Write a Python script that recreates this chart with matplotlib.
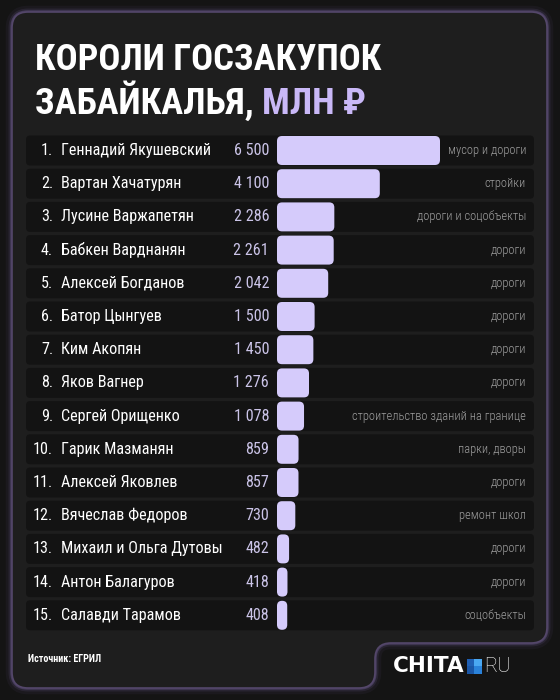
import numpy as np
import matplotlib
matplotlib.use("Agg")
import matplotlib.pyplot as plt
from matplotlib.path import Path
from matplotlib.patches import PathPatch, FancyBboxPatch, Rectangle

# data
names = ["Геннадий Якушевский", "Вартан Хачатурян", "Лусине Варжапетян",
         "Бабкен Варднанян", "Алексей Богданов", "Батор Цынгуев",
         "Ким Акопян", "Яков Вагнер", "Сергей Орищенко", "Гарик Мазманян",
         "Алексей Яковлев", "Вячеслав Федоров", "Михаил и Ольга Дутовы",
         "Антон Балагуров", "Салавди Тарамов"]
values = [6500, 4100, 2286, 2261, 2042, 1500, 1450, 1276, 1078, 859,
          857, 730, 482, 418, 408]
categories = ["мусор и дороги", "стройки", "дороги и соцобъекты", "дороги",
              "дороги", "дороги", "дороги", "дороги",
              "строительство зданий на границе", "парки, дворы", "дороги",
              "ремонт школ", "дороги", "дороги", "соцобъекты"]
title_1 = "КОРОЛИ ГОСЗАКУПОК"
title_2 = "ЗАБАЙКАЛЬЯ, "
title_unit = "МЛН ₽"
source = "Источник: ЕГРИЛ"

fam = ["Roboto Condensed", "DejaVu Sans"]
cond = dict(family=fam, stretch="condensed")

BG = "#141414"
CARD = "#1e1e1e"
ROW = "#131313"
BAR = "#d5cbfb"
NUM = "#cbc4e8"
CAT = "#9d9d9d"
ACCENT = "#c9b8f7"


def rounded_path(pts, r):
    # polygon with corners softened by quadratic curves
    verts, codes = [], []
    n = len(pts)
    for i in range(n):
        p0 = np.array(pts[i - 1], float)
        v = np.array(pts[i], float)
        p1 = np.array(pts[(i + 1) % n], float)
        a = v + r * (p0 - v) / np.linalg.norm(p0 - v)
        b = v + r * (p1 - v) / np.linalg.norm(p1 - v)
        verts += [tuple(a), tuple(v), tuple(b)]
        codes += [Path.MOVETO if i == 0 else Path.LINETO, Path.CURVE3, Path.CURVE3]
    verts.append(verts[0])
    codes.append(Path.CLOSEPOLY)
    return Path(verts, codes)


def right_edge(t):
    fig.canvas.draw()
    bb = t.get_window_extent()
    return ax.transData.inverted().transform((bb.x1, bb.y0))[0]


fig = plt.figure(figsize=(5.6, 7), dpi=100, facecolor=BG)
ax = fig.add_axes([0, 0, 1, 1])
ax.set_xlim(0, 560)
ax.set_ylim(700, 0)
ax.axis("off")

# card with a notch at the bottom right for the logo
card = rounded_path([(12, 12), (547, 12), (547, 643), (375, 643),
                     (375, 688), (12, 688)], 16)
for lw, al in [(9, 0.07), (5, 0.14), (2.5, 0.35)]:
    ax.add_patch(PathPatch(card, facecolor="none", edgecolor="#7d68a6",
                           lw=lw, alpha=al))
ax.add_patch(PathPatch(card, facecolor=CARD, edgecolor="#54476a", lw=1.2))

# title
ts = 26.3
ax.text(35, 70, title_1, color="white", fontsize=ts, fontweight="bold",
        va="baseline", ha="left", **cond)
t2 = ax.text(35, 114, title_2, color="white", fontsize=ts, fontweight="bold",
             va="baseline", ha="left", **cond)
ax.text(right_edge(t2), 114, title_unit, color=ACCENT, fontsize=ts,
        fontweight="bold", va="baseline", ha="left", **cond)

# rows
y0, step, h = 150.5, 33.2, 30
x_bar, px_full = 277, 163
scale = px_full / max(values)
for i, (name, v, cat) in enumerate(zip(names, values, categories)):
    yc = y0 + i * step
    ax.add_patch(FancyBboxPatch((26, yc - h / 2), 508, h,
                                boxstyle="round,pad=0,rounding_size=4",
                                facecolor=ROW, edgecolor="none"))
    ax.add_patch(FancyBboxPatch((x_bar, yc - h / 2 + 0.5), v * scale, h - 1,
                                boxstyle="round,pad=0,rounding_size=5",
                                facecolor=BAR, edgecolor="none"))
    ax.text(53, yc, f"{i + 1}.", color="white", fontsize=11.6,
            ha="right", va="center", **cond)
    ax.text(61, yc, name, color="white", fontsize=11.6,
            ha="left", va="center", **cond)
    ax.text(269, yc, f"{v:,}".replace(",", " "), color=NUM, fontsize=11.6,
            ha="right", va="center", **cond)
    ax.text(526, yc, cat, color=CAT, fontsize=9, fontweight="light",
            ha="right", va="center", **cond)

# footer
ax.text(28, 659, source, color="white", fontsize=7.2, fontweight="bold",
        ha="left", va="center", **cond)
logo = ax.text(393, 666, "CHITA", color="white", fontsize=15.5,
               fontweight="heavy", family=["DejaVu Sans"],
               ha="left", va="center")
sq_x, sq_y, s = right_edge(logo) + 2, 658.5, 7.5
for dx, dy, c in [(0, 0, "#1f5fb4"), (s, 0, "#4aa8f2"),
                  (0, s, "#1a56a6"), (s, s, "#2a82da")]:
    ax.add_patch(Rectangle((sq_x + dx, sq_y + dy), s, s, facecolor=c,
                           edgecolor="none"))
ax.text(sq_x + 2 * s + 2, 666, "RU", color="white", fontsize=14.5,
        fontweight="light", family=["Roboto", "DejaVu Sans"],
        ha="left", va="center")

fig.savefig("out.png", dpi=100, facecolor=BG)
